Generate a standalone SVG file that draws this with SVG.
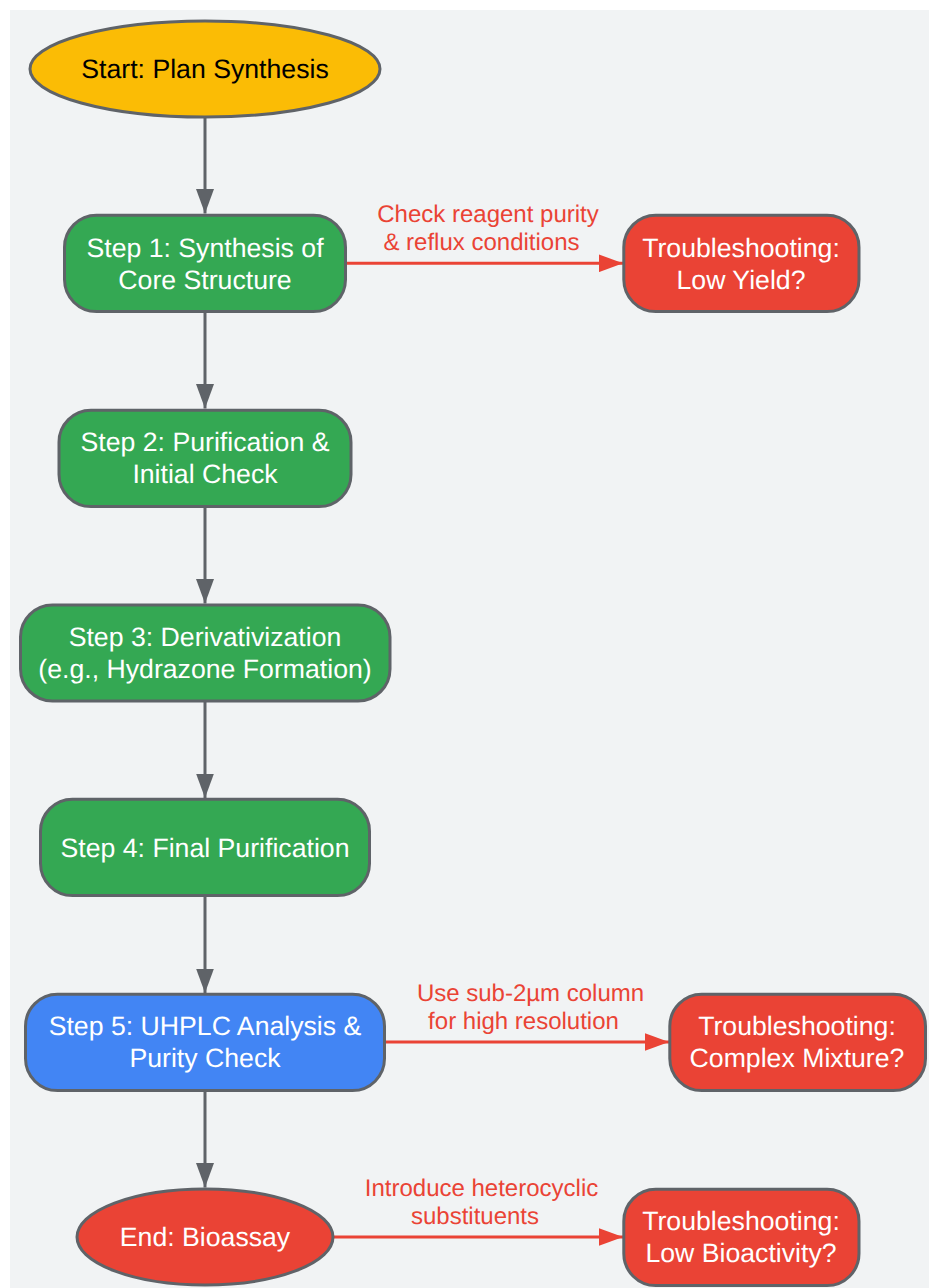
<svg xmlns="http://www.w3.org/2000/svg" width="929" height="1288" viewBox="0 0 929 1288">
<style>
text{font-family:"Liberation Sans",Arial,sans-serif;text-rendering:geometricPrecision}
.n{stroke:#5f6368;stroke-width:3}
.t{font-size:26.67px;text-anchor:middle;fill:#fff}
.l{font-size:24px;text-anchor:middle;fill:#ea4335}
.g{fill:#34a853}.r{fill:#ea4335}
.c{fill:none;stroke-width:3}
.cg{stroke:#5f6368}.cr{stroke:#ea4335}
</style>
<defs>
<marker id="ag" markerUnits="userSpaceOnUse" markerWidth="25" markerHeight="18" refX="24.500" refY="9" orient="auto"><path d="M0 0L24.500 9L0 18Z" fill="#5f6368"/></marker>
<marker id="ar" markerUnits="userSpaceOnUse" markerWidth="25" markerHeight="18" refX="24.500" refY="9" orient="auto"><path d="M0 0L24.500 9L0 18Z" fill="#ea4335"/></marker>
</defs>
<rect x="10" y="10" width="919" height="1278" fill="#f1f3f4"/>
<g id="connectors">
<path class="c cg" d="M205 117V213.500" marker-end="url(#ag)"/>
<path class="c cg" d="M205 312V408.500" marker-end="url(#ag)"/>
<path class="c cg" d="M205 506V603.500" marker-end="url(#ag)"/>
<path class="c cg" d="M205 701V798" marker-end="url(#ag)"/>
<path class="c cg" d="M205 896V993" marker-end="url(#ag)"/>
<path class="c cg" d="M205 1090V1187.500" marker-end="url(#ag)"/>
<path class="c cr" d="M346 263.300H623" marker-end="url(#ar)"/>
<path class="c cr" d="M385 1042H669" marker-end="url(#ar)"/>
<path class="c cr" d="M333 1237H623" marker-end="url(#ar)"/>
<text class="l" x="488" y="222">Check reagent purity</text>
<text class="l" x="481.500" y="250">&amp; reflux conditions</text>
<text class="l" x="530.500" y="1001">Use sub-2µm column</text>
<text class="l" x="523.500" y="1029">for high resolution</text>
<text class="l" x="481.500" y="1196">Introduce heterocyclic</text>
<text class="l" x="475" y="1224">substituents</text>
</g>
<g id="start"><ellipse class="n" cx="205" cy="69" rx="175" ry="48" fill="#fbbc05"/><text class="t" x="205" y="78" style="fill:#000">Start: Plan Synthesis</text></g>
<g id="step1"><rect class="n g" x="64.500" y="215.300" width="281" height="96.300" rx="32"/><text class="t" x="205" y="257">Step 1: Synthesis of</text><text class="t" x="205" y="289">Core Structure</text></g>
<g id="step2"><rect class="n g" x="59" y="410.300" width="292" height="96.300" rx="32"/><text class="t" x="205" y="451">Step 2: Purification &amp;</text><text class="t" x="205" y="483">Initial Check</text></g>
<g id="step3"><rect class="n g" x="20.500" y="605" width="369.500" height="96" rx="32"/><text class="t" x="205" y="646">Step 3: Derivativization</text><text class="t" x="205" y="678">(e.g., Hydrazone Formation)</text></g>
<g id="step4"><rect class="n g" x="40.500" y="799.300" width="329" height="96.300" rx="32"/><text class="t" x="205" y="857">Step 4: Final Purification</text></g>
<g id="step5"><rect class="n" x="25.500" y="994.300" width="359" height="96.300" rx="32" fill="#4285f4"/><text class="t" x="205" y="1035">Step 5: UHPLC Analysis &amp;</text><text class="t" x="205" y="1067">Purity Check</text></g>
<g id="end"><ellipse class="n r" cx="205" cy="1237" rx="128" ry="48"/><text class="t" x="205" y="1246">End: Bioassay</text></g>
<g id="ts1"><rect class="n r" x="623.800" y="215.300" width="235.200" height="96.300" rx="32"/><text class="t" x="741" y="257">Troubleshooting:</text><text class="t" x="741" y="289">Low Yield?</text></g>
<g id="ts2"><rect class="n r" x="669.800" y="994.300" width="255.700" height="96.300" rx="32"/><text class="t" x="797" y="1035">Troubleshooting:</text><text class="t" x="797" y="1067">Complex Mixture?</text></g>
<g id="ts3"><rect class="n r" x="623.800" y="1189.300" width="235.200" height="96.300" rx="32"/><text class="t" x="741" y="1230">Troubleshooting:</text><text class="t" x="741" y="1262">Low Bioactivity?</text></g>
</svg>
